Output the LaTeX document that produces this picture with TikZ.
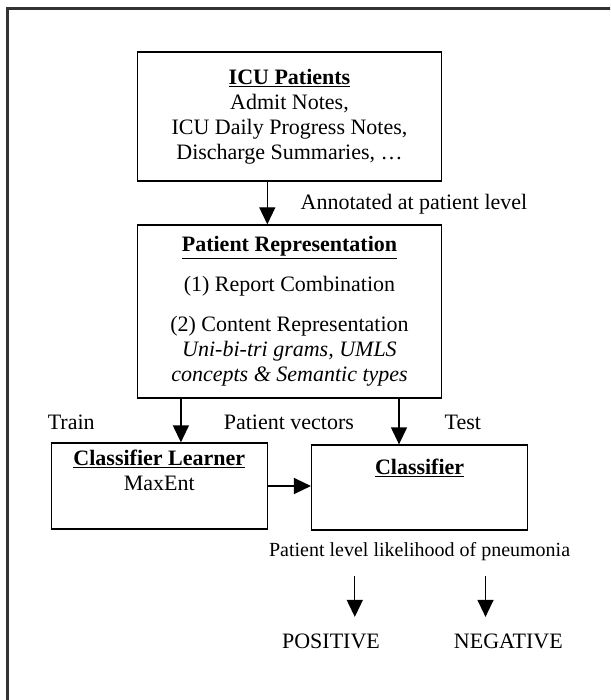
\documentclass[tikz,border=0pt]{standalone}
\usepackage{fontspec}
\setmainfont{Liberation Serif}
\usetikzlibrary{arrows.meta}

\begin{document}
\begin{tikzpicture}[x=1pt,y=-1pt,>={Triangle[width=16pt,length=17pt]},line width=1.3pt,
  box/.style={draw,line width=1.3pt,inner sep=0pt,align=center,font=\fontsize{22}{25}\selectfont},
  lab/.style={inner sep=0pt,font=\fontsize{22}{25}\selectfont}]
  \useasboundingbox (0,0) rectangle (610,700);
  \clip (0,0) rectangle (610,700);
  \draw[line width=2.2pt,black!80] (615,8.5) -- (7.5,8.5) -- (7.5,705);
  % boxes
  \node[box,minimum width=303.5pt,minimum height=129pt] (nIcu) at (289.5,116.5) {\underline{\textbf{ICU Patients}}\\Admit Notes,\\ICU Daily Progress Notes,\\Discharge Summaries, \dots};
  \node[box,minimum width=303.5pt,minimum height=173pt] (nRep) at (289.5,311.5) {\underline{\textbf{Patient Representation}}\\[15pt](1) Report Combination\\[15pt](2) Content Representation\\\textit{Uni-bi-tri grams, UMLS}\\\textit{concepts \& Semantic types}};
  \node[box,minimum width=216pt,minimum height=86pt] (nLrn) at (159.3,486) {\underline{\textbf{Classifier Learner}}\\MaxEnt\\[6pt]};
  \node[box,minimum width=216pt,minimum height=85pt] (nClf) at (419.6,487.5) {};
  \node[lab] (nClfT) at ([yshift=-24pt]nClf.north) {\underline{\textbf{Classifier}}};
  % labels
  \node[lab,anchor=west] (nAnn) at (300,204) {Annotated at patient level};
  \node[lab] (nTrain) at (71.2,422) {Train};
  \node[lab] (nVec) at (288.9,422) {Patient vectors};
  \node[lab] (nTest) at (462.8,422) {Test};
  \node[lab,font=\fontsize{20}{23}\selectfont] (nLik) at (419.6,552) {Patient level likelihood of pneumonia};
  \node[lab] (nPos) at (331,641) {POSITIVE};
  \node[lab] (nNeg) at (508.3,641) {NEGATIVE};
  % arrows
  \coordinate (cIcu) at (267.3,0);
  \coordinate (cTrn) at (180.9,0);
  \coordinate (cTst) at (399,0);
  \coordinate (cPos) at (354.8,0);
  \coordinate (cNeg) at (485.5,0);
  \draw[->] (nIcu.south -| cIcu) -- (nRep.north -| cIcu);
  \draw[->] (nRep.south -| cTrn) -- (nLrn.north -| cTrn);
  \draw[->] (nRep.south -| cTst) -- (nClf.north -| cTst);
  \draw[->] (nLrn.east) -- (nLrn.east -| nClf.west);
  \draw[->,shorten <=14pt,shorten >=16pt] (nLik.south -| cPos) -- (nPos.north -| cPos);
  \draw[->,shorten <=14pt,shorten >=16pt] (nLik.south -| cNeg) -- (nNeg.north -| cNeg);
\end{tikzpicture}
\end{document}
